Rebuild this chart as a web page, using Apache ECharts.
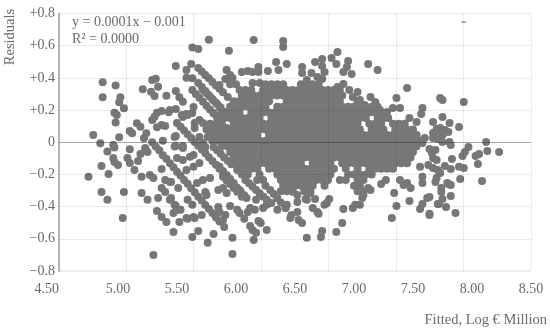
<!DOCTYPE html>
<html>
<head>
<meta charset="utf-8">
<script src="https://cdn.jsdelivr.net/npm/echarts@6/dist/echarts.min.js"></script>
<style>html,body{margin:0;padding:0;background:#fff}#main{width:550px;height:331px}</style>
</head>
<body>
<div id="main"></div>
<script type="text/javascript">
// tick labels
var xTickValues = [4.52, 5.02, 5.52, 6.02, 6.52, 7.02, 7.52, 8.02, 8.52];
var xTickLabels = ["4.50", "5.00", "5.50", "6.00", "6.50", "7.00", "7.50", "8.00", "8.50"];
var yTickValues = [-0.8, -0.6, -0.4, -0.2, 0, 0.2, 0.4, 0.6, 0.8];
var yTickLabels = ["\u22120.8", "\u22120.6", "\u22120.4", "\u22120.2", "0", "+0.2", "+0.4", "+0.6", "+0.8"];
var xGridValues = [5.07, 5.64, 6.21, 6.78, 7.36, 7.93, 8.5];

// isolated points, [fitted, residual]
var leftPoints = [[4.87,.373],[4.98,.352],[4.87,.28],[5.02,.28],[5.01,.248],[5.05,.211],[4.97,.184],[4.99,.17],[4.98,.122],[4.79,.045],[4.85,-.006],[5.01,.031],[4.96,-.017],[4.97,-.033],[4.91,-.058],[5.10,-.044],[5.10,.07],[5.12,.056],[5.16,.118],[5.19,.097],[5.24,.056],[5.22,.025],[5.21,.329],[5.29,.387],[5.32,.395],[5.34,.345],[5.28,.314],[5.31,.288],[5.41,.289],[5.49,.319],[5.52,.28],[5.55,.252],[5.49,.207],[5.49,.474],[5.58,.449],[5.62,.486],[5.58,.401],[5.63,.398],[5.63,.588],[5.68,.58],[5.77,.637],[5.94,.569],[6.15,.635],[5.29,.138],[5.31,.159],[5.33,.184],[5.37,.194],[5.43,.186],[5.33,.093],[5.37,.107],[5.40,.101],[5.38,.01],[5.49,.039],[5.49,-.023],[5.54,.17],[5.58,.176],[5.63,.182],[5.44,.2],[5.55,.157],[5.59,.17],[5.64,.219],[5.48,.033],[5.55,-.023],[5.65,.089],[5.69,.138],[5.72,.12],[5.65,.12],[5.69,.033],[5.76,.033],[5.81,.076],[5.86,.058],[5.72,-.004],[5.74,-.029]];
var lowerLeftPoints = [[4.75,-.215],[4.86,-.309],[5.05,-.309],[4.92,-.197],[4.86,-.147],[5.20,-.315],[5.20,-.215],[5.27,-.203],[5.30,-.222],[5.37,-.166],[5.40,-.234],[5.45,-.247],[5.37,-.284],[5.40,-.309],[4.96,-.098],[4.97,-.122],[5.0,-.141],[5.08,-.098],[5.10,-.129],[5.14,-.172],[5.17,-.116],[5.19,-.073],[5.23,-.035],[5.25,-.06],[4.91,-.358],[5.34,-.346],[5.25,-.358],[5.45,-.346],[5.04,-.47],[5.30,-.7],[5.33,-.427],[5.37,-.464],[5.41,-.495],[5.49,-.396],[5.53,-.42],[5.59,-.476],[5.97,-.694],[5.48,-.027],[5.55,-.035],[5.64,-.079],[5.61,-.09],[5.50,-.098],[5.55,-.11],[5.58,-.172],[5.64,-.153],[5.69,-.129],[5.67,-.253],[5.72,-.234],[5.78,-.222],[5.51,-.284],[5.44,-.247],[5.74,-.309],[5.75,-.327],[5.85,-.296],[5.92,-.315],[5.89,-.284],[5.59,-.358],[5.63,-.389],[5.44,-.358],[5.48,-.389],[5.51,-.42],[5.47,-.44],[5.52,-.495],[5.58,-.47],[5.64,-.464],[5.71,-.452],[5.65,-.47],[5.47,-.557],[5.68,-.551],[5.63,-.588],[5.81,-.57],[5.76,-.625],[5.97,-.594],[6.15,-.607],[6.60,-.594],[5.85,-.402],[5.86,-.433],[5.91,-.452],[5.89,-.483],[5.90,-.526],[5.95,-.396],[6.01,-.42],[6.03,-.439],[6.07,-.476],[6.10,-.433],[6.16,-.42],[6.12,-.408],[6.12,-.52],[6.14,-.545],[6.17,-.563],[6.19,-.489],[6.21,-.501],[6.26,-.545],[6.23,-.408],[6.26,-.389],[6.30,-.377],[6.35,-.42],[6.17,-.358],[6.42,-.408],[6.43,-.389],[6.52,-.371],[6.47,-.452],[6.52,-.433],[6.56,-.501],[6.53,-.483],[6.46,-.47],[6.59,-.352]];
var lowerRightPoints = [[6.60,-.358],[6.67,-.352],[6.63,-.315],[6.65,-.408],[6.69,-.433],[6.70,-.445],[6.77,-.377],[6.79,-.352],[6.75,-.389],[6.91,-.414],[6.90,-.501],[6.85,-.557],[6.73,-.551],[6.72,-.588],[6.99,-.408],[7.05,-.389],[7.01,-.389],[7.08,-.327],[7.07,-.346],[7.14,-.296],[7.12,-.284],[7.34,-.315],[7.23,-.259],[7.27,-.234],[7.36,-.396],[7.32,-.47],[7.47,-.365],[7.58,-.215],[7.58,-.253],[7.56,-.414],[7.58,-.383],[7.62,-.346],[7.64,-.34],[7.64,-.452],[7.69,-.247],[7.71,-.383],[7.39,-.234],[7.42,-.265],[7.48,-.284],[7.45,-.253],[8.085,-.24],[7.86,-.439],[7.82,-.334],[7.78,-.402],[7.72,-.383],[7.75,-.352],[7.64,-.445],[7.90,-.228],[7.80,-.259],[7.82,-.265],[7.74,-.284],[7.74,-.309],[7.70,-.222],[7.79,-.253]];
var rightPoints = [[7.58,.213],[7.57,.176],[7.75,.263],[7.93,.25],[7.75,.157],[7.67,.126],[7.81,.12],[7.89,.095],[7.73,.089],[7.70,.083],[7.77,.076],[7.80,.064],[7.67,.058],[7.70,.045],[7.75,.045],[7.67,.027],[7.71,.02],[7.75,.002],[7.81,.002],[7.82,-.017],[7.60,.027],[7.58,-.004],[8.12,.002],[7.97,-.029],[7.94,-.06],[7.92,-.085],[8.13,-.054],[8.23,-.06],[8.06,-.073],[8.03,-.085],[8.05,-.135],[7.83,-.104],[7.64,-.042],[7.69,-.048],[7.66,-.066],[7.67,-.098],[7.70,-.11],[7.56,-.153],[7.63,-.141],[7.67,-.16],[7.71,-.172],[7.73,-.191],[7.77,-.147],[7.82,-.166],[7.89,-.153],[7.93,-.16]];
var topPoints = [[6.86,.561],[6.81,.524],[6.85,.486],[6.73,.518],[6.67,.499],[6.73,.474],[6.75,.437],[6.95,.505],[6.94,.468],[6.91,.437],[6.98,.424],[7.12,.486],[7.20,.449],[7.45,.337],[7.36,.275],[7.73,.275],[6.56,.468],[6.56,.43],[6.64,.43],[6.60,.387],[6.69,.406],[6.73,.393],[6.86,.343],[6.91,.362],[6.96,.325],[7.03,.312],[6.99,.281],[7.05,.263],[7.14,.281],[7.18,.25],[7.22,.201],[7.09,.232],[7.28,.188],[7.33,.213],[7.39,.213],[7.47,.151],[7.53,.126],[7.29,.151],[6.40,.592],[6.40,.629],[6.34,.499],[6.43,.486],[6.36,.449],[6.27,.443],[6.19,.468],[5.92,.449],[5.95,.418],[6.05,.437],[6.10,.443],[6.14,.437],[6.19,.437],[5.86,.356],[5.91,.393],[5.97,.399],[6.14,.368],[6.20,.368]];

// the diagonal runs of points left of and below the main cloud
var stripeA = [[5.29,0],[5.32,-.027],[5.35,-.05],[5.38,-.08],[5.41,-.103],[5.44,-.13],[5.47,-.155],[5.50,-.183],[5.53,-.207],[5.56,-.234],[5.59,-.258],[5.62,-.286],[5.65,-.31],[5.68,-.338],[5.71,-.362],[5.74,-.39],[5.77,-.414],[5.80,-.44],[5.83,-.467],[5.86,-.493]];
var stripeB = [[5.50,.12],[5.53,.097],[5.56,.073],[5.59,.05],[5.62,.026],[5.65,.002],[5.68,-.022],[5.71,-.045],[5.74,-.069],[5.77,-.093],[5.80,-.117],[5.83,-.14],[5.86,-.164],[5.89,-.188],[5.92,-.211],[5.95,-.235],[5.98,-.259],[6.01,-.283],[6.04,-.306],[6.07,-.33],[6.09,-.346]];
var stripeC = [[5.68,.462],[5.71,.44],[5.74,.418],[5.77,.397],[5.80,.375],[5.83,.353],[5.86,.332],[5.89,.31],[5.93,.281]];
var stripeD = [[5.63,.325],[5.66,.3],[5.69,.276],[5.72,.251],[5.75,.227],[5.78,.203],[5.81,.179],[5.84,.155],[5.86,.139]];
var stripeF = [[5.86,-.153],[5.89,-.178],[5.92,-.203],[5.95,-.228],[5.98,-.253],[6.03,-.296]];
var stripeG = [[5.68,.368],[5.71,.344],[5.74,.318],[5.77,.292],[5.80,.268],[5.83,.245],[5.86,.219]];
var stripeH = [[5.72,.325],[5.75,.304],[5.78,.282],[5.81,.26],[5.84,.238],[5.87,.216],[5.91,.188]];
var stripeI = [[5.81,.182],[5.84,.157],[5.87,.13],[5.92,.089]];
var stripeJ = [[5.81,-.029],[5.84,-.05],[5.87,-.072],[5.90,-.094],[5.93,-.115],[5.96,-.137],[6.01,-.172]];
var stripeK = [[5.89,-.215],[5.92,-.238],[5.95,-.26],[5.98,-.285],[6.01,-.308],[6.05,-.339]];
var stripeL = [[6.08,-.234],[6.11,-.255],[6.14,-.275],[6.17,-.296],[6.20,-.317],[6.23,-.337],[6.26,-.358]];
var stripeM = [[6.29,-.296],[6.32,-.322],[6.35,-.348],[6.38,-.374],[6.42,-.408]];
var stripeN = [[6.42,-.277],[6.45,-.292],[6.48,-.308],[6.52,-.327]];

// the solid cloud: one residual, and the fitted values read along it
var cloudResiduals = [.36,.325,.29,.255,.22,.185,.15,.115,.08,.045,.01,-.025,-.06,-.095,-.13,-.165,-.2,-.235,-.27,-.305];
var cloudFitted = [
[5.95,6.00,6.25,6.30,6.35,6.40,6.55,6.60,6.65,6.70],
[6.03,6.08,6.13,6.23,6.28,6.33,6.38,6.43,6.48,6.53,6.58,6.63,6.68,6.73,6.78,6.83,6.88],
[6.05,6.10,6.15,6.20,6.25,6.30,6.35,6.40,6.45,6.50,6.55,6.60,6.65,6.70,6.75,6.80,6.85,6.90],
[5.98,6.03,6.08,6.13,6.18,6.23,6.28,6.43,6.48,6.53,6.58,6.63,6.68,6.73,6.78,6.83,6.88,7.03],
[5.95,6.00,6.05,6.10,6.15,6.20,6.25,6.35,6.40,6.45,6.50,6.55,6.60,6.65,6.70,6.75,6.80,6.85,6.90,6.95,7.00,7.05,7.10,7.15,7.20],
[5.88,5.93,5.98,6.03,6.13,6.18,6.23,6.28,6.33,6.38,6.43,6.48,6.53,6.58,6.63,6.68,6.73,6.78,6.83,6.88,6.93,6.98,7.03,7.08,7.13,7.18,7.23],
[5.85,5.90,5.95,6.00,6.05,6.10,6.15,6.20,6.30,6.35,6.40,6.45,6.50,6.55,6.60,6.65,6.70,6.75,6.80,6.85,6.90,6.95,7.00,7.05,7.10,7.20,7.25],
[5.78,5.83,5.88,5.98,6.03,6.08,6.13,6.18,6.23,6.28,6.33,6.38,6.43,6.48,6.53,6.58,6.63,6.68,6.73,6.78,6.83,6.88,6.93,6.98,7.03,7.13,7.18,7.23,7.33,7.38,7.43],
[5.75,5.80,5.85,5.90,5.95,6.00,6.05,6.10,6.15,6.20,6.25,6.30,6.35,6.40,6.45,6.50,6.55,6.60,6.65,6.70,6.75,6.80,6.85,6.90,6.95,7.00,7.05,7.15,7.20,7.25,7.35,7.40,7.45,7.50],
[5.78,5.83,5.88,5.93,5.98,6.03,6.08,6.13,6.18,6.28,6.33,6.38,6.43,6.48,6.53,6.58,6.63,6.68,6.73,6.78,6.83,6.88,6.93,6.98,7.03,7.08,7.13,7.18,7.23,7.28,7.33,7.38,7.43,7.48,7.53],
[5.80,5.85,5.90,5.95,6.00,6.05,6.10,6.15,6.20,6.25,6.30,6.35,6.40,6.45,6.50,6.55,6.60,6.65,6.70,6.75,6.80,6.85,6.90,6.95,7.00,7.05,7.10,7.15,7.20,7.25,7.30,7.35,7.40,7.45,7.50,7.55],
[5.88,5.93,5.98,6.03,6.08,6.13,6.18,6.23,6.28,6.33,6.38,6.43,6.48,6.53,6.58,6.63,6.68,6.73,6.78,6.83,6.88,6.93,6.98,7.03,7.08,7.13,7.18,7.23,7.28,7.33,7.38,7.43,7.48,7.53],
[5.95,6.00,6.05,6.10,6.15,6.20,6.25,6.30,6.35,6.40,6.45,6.50,6.55,6.60,6.65,6.70,6.75,6.80,6.85,6.90,6.95,7.00,7.05,7.10,7.15,7.20,7.25,7.30,7.35,7.40,7.45,7.50],
[5.98,6.03,6.08,6.13,6.18,6.23,6.28,6.33,6.38,6.43,6.48,6.53,6.58,6.63,6.68,6.73,6.78,6.83,6.88,6.93,6.98,7.03,7.08,7.13,7.18,7.23,7.28,7.33,7.38,7.43,7.48],
[6.00,6.05,6.10,6.15,6.20,6.25,6.30,6.35,6.40,6.45,6.50,6.55,6.65,6.70,6.75,6.80,6.90,6.95,7.00,7.05,7.10,7.15,7.20,7.25,7.30,7.35,7.40,7.45],
[6.03,6.08,6.13,6.18,6.28,6.33,6.38,6.43,6.48,6.53,6.58,6.63,6.68,6.73,6.78,6.83,6.93,7.03,7.13,7.18,7.23,7.28,7.33],
[6.05,6.10,6.20,6.35,6.40,6.45,6.50,6.55,6.60,6.65,6.70,6.75,6.80,6.95,7.00,7.05,7.10,7.15],
[6.18,6.23,6.38,6.43,6.48,6.53,6.58,6.63,6.68,6.73,6.78,6.88,6.93,7.03,7.08],
[6.25,6.40,6.45,6.50,6.55,6.60,6.65,6.75,7.00,7.05],
[6.38,6.43,6.48,6.58,6.63,7.03,7.08]
];

// the stray dash at the top of the plot, over the 7.93 grid line
var dashPoint = [[7.93, 0.747]];

var scatterData = [].concat(leftPoints, lowerLeftPoints, lowerRightPoints, rightPoints, topPoints,
    stripeA, stripeB, stripeC, stripeD, stripeF, stripeG, stripeH, stripeI, stripeJ, stripeK, stripeL, stripeM, stripeN);
cloudResiduals.forEach(function (r, i) {
    cloudFitted[i].forEach(function (x) {
        scatterData.push([x, r]);
    });
});

// grid lines are mark lines so they show faintly over the points, as in the picture
var gridLines = [];
xGridValues.forEach(function (v) {
    gridLines.push({xAxis: v, lineStyle: {type: "solid", color: "rgba(0,0,0,0.08)", width: 1}});
});
yTickValues.forEach(function (v) {
    if (v === -0.8) {
        gridLines.push({yAxis: v, lineStyle: {type: "solid", color: "rgba(0,0,0,0.1)", width: 1.5}});
    } else if (v === 0) {
        gridLines.push({yAxis: v, lineStyle: {type: "solid", color: "rgba(40,40,40,0.42)", width: 1}});
    } else {
        gridLines.push({yAxis: v, lineStyle: {type: "solid", color: "rgba(0,0,0,0.08)", width: 1}});
    }
});

var serif = "Liberation Serif";
var textColor = "#6a6a6a";
var myChart = echarts.init(document.getElementById("main"), null, {renderer: "canvas"});
myChart.setOption({
    animation: false,
    grid: {left: 59, right: 19, top: 13.5, bottom: 60, containLabel: false},
    xAxis: [{
        type: "value", min: 4.5, max: 8.5,
        axisLine: {show: false}, axisTick: {show: false}, axisLabel: {show: false}, splitLine: {show: false}
    }, {
        type: "value", min: 4.52, max: 8.52, position: "bottom",
        axisLine: {show: false}, axisTick: {show: false}, splitLine: {show: false},
        axisLabel: {
            customValues: xTickValues, alignMinLabel: "right", margin: 11,
            fontFamily: serif, fontSize: 14, color: textColor,
            formatter: function (v) {
                return xTickLabels[xTickValues.indexOf(v)];
            }
        }
    }],
    yAxis: {
        type: "value", min: -0.8, max: 0.8,
        axisLine: {show: true, onZero: false, lineStyle: {color: "#b4b4b4", width: 2}},
        axisTick: {show: false}, splitLine: {show: false},
        axisLabel: {
            customValues: yTickValues, margin: 4,
            fontFamily: serif, fontSize: 14, color: textColor,
            formatter: function (v) {
                return yTickLabels[yTickValues.indexOf(v)];
            }
        }
    },
    series: [{
        type: "scatter",
        symbolSize: 8,
        itemStyle: {color: "#777777", opacity: 1},
        data: scatterData,
        silent: true,
        markLine: {silent: true, symbol: "none", label: {show: false}, animation: false, data: gridLines}
    }, {
        type: "scatter",
        symbol: "rect",
        symbolSize: [5, 1],
        itemStyle: {color: "#444444"},
        data: dashPoint,
        silent: true
    }],
    graphic: [
        {type: "text", left: 72, top: 15, style: {text: "y = 0.0001x \u2212 0.001", fontFamily: serif, fontSize: 14, fill: textColor}},
        {type: "text", left: 72, top: 32, style: {text: "R\u00b2 = 0.0000", fontFamily: serif, fontSize: 14, fill: textColor}},
        {type: "text", x: 10, y: 37, rotation: Math.PI / 2, style: {text: "Residuals", align: "center", verticalAlign: "middle", fontFamily: serif, fontSize: 14.5, fill: textColor}},
        {type: "text", right: 3, top: 313, style: {text: "Fitted, Log \u20ac Million", fontFamily: serif, fontSize: 14.5, fill: textColor}}
    ]
});
</script>
</body>
</html>
